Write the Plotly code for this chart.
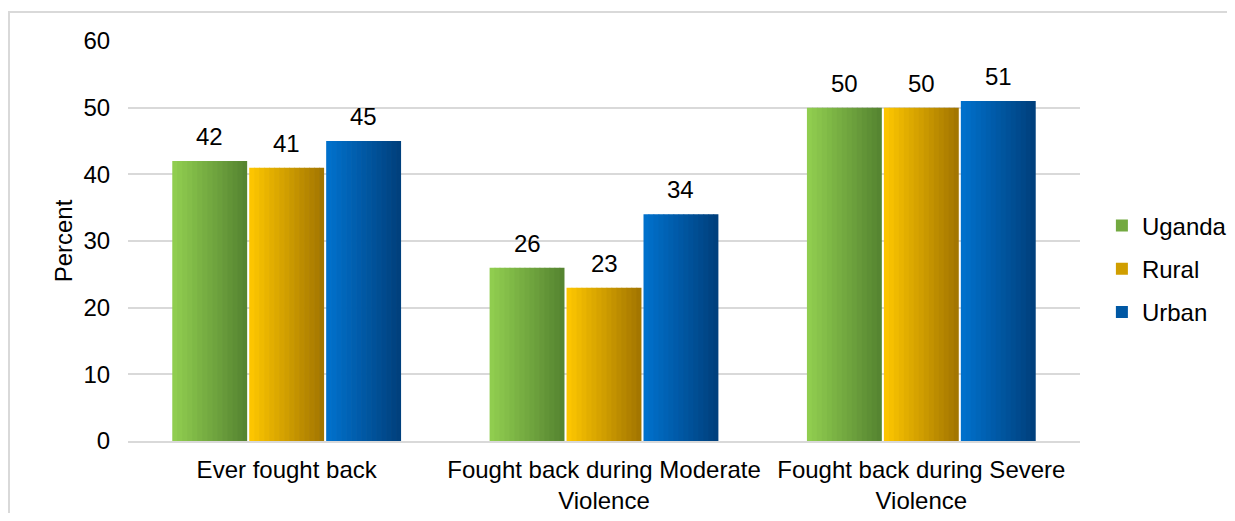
import plotly.graph_objects as go

categories = ["Ever fought back",
              "Fought back during Moderate<br>Violence",
              "Fought back during Severe<br>Violence"]
series_names = ["Uganda", "Rural", "Urban"]
uganda = [42, 26, 50]
rural = [41, 23, 50]
urban = [45, 34, 51]
y_ticks = [0, 10, 20, 30, 40, 50, 60]

series_values = [uganda, rural, urban]
# gradient colours (left, right) per series
grad = [((146, 208, 80), (84, 130, 48)),
        ((255, 200, 0), (160, 115, 0)),
        ((0, 114, 206), (0, 62, 122))]

FONT = "Liberation Sans, Arial, sans-serif"
N = 15
bar_w = 0.236
slot = 0.2425
start = -3 * slot / 2 + (slot - bar_w) / 2
step = bar_w / N

fig = go.Figure()
for s, (name, vals) in enumerate(zip(series_names, series_values)):
    c0, c1 = grad[s]
    for k in range(N):
        t = (k + 0.5) / N
        col = "rgb(%d,%d,%d)" % tuple(round(c0[i] + (c1[i] - c0[i]) * t) for i in range(3))
        off = start + s * slot + k * step
        w = step * 1.15 if k < N - 1 else step
        mid = (k == N // 2)
        fig.add_trace(go.Bar(
            x=categories, y=vals, name=name,
            width=[w] * 3, offset=[off] * 3,
            marker=dict(color=col, line=dict(width=0)),
            showlegend=mid, legendgroup=name,
            hoverinfo="skip" if not mid else None,
        ))
    # value labels above bars (positioned on the category axis scale)
    centre = start + s * slot + bar_w / 2
    for ci, v in enumerate(vals):
        fig.add_annotation(x=ci + centre, y=v, xref="x", yref="y",
                           text=str(v), showarrow=False, yanchor="bottom",
                           yshift=9,
                           font=dict(family=FONT, size=24, color="#000000"))

# outer border
fig.add_shape(type="rect", xref="paper", yref="paper",
              x0=-0.125, x1=1.25, y0=-0.3, y1=1.0725,
              line=dict(color="#D9D9D9", width=2), layer="below")

fig.update_layout(
    width=1227, height=505,
    margin=dict(l=120, r=155, t=33, b=72, autoexpand=False),
    barmode="overlay",
    paper_bgcolor="white", plot_bgcolor="white",
    font=dict(family=FONT, size=24, color="#000000"),
    legend=dict(x=1.023, y=0.43, xanchor="left", yanchor="middle",
                font=dict(family=FONT, size=24), tracegroupgap=9,
                bgcolor="rgba(0,0,0,0)"),
    xaxis=dict(type="category", showgrid=False, showline=True,
               automargin=False,
               linecolor="#D9D9D9", linewidth=2, ticks="outside",
               ticklen=6, tickcolor="rgba(0,0,0,0)",
               tickfont=dict(family=FONT, size=24)),
    yaxis=dict(range=[0, 60], tickvals=y_ticks, showgrid=True,
               automargin=False,
               gridcolor="#D9D9D9", gridwidth=1.5, zeroline=False,
               showline=False, ticks="outside", ticklen=12,
               tickcolor="rgba(0,0,0,0)",
               tickfont=dict(family=FONT, size=24),
               title=dict(text="Percent", font=dict(family=FONT, size=24),
                          standoff=4)),
)

fig.write_html("out.html")
